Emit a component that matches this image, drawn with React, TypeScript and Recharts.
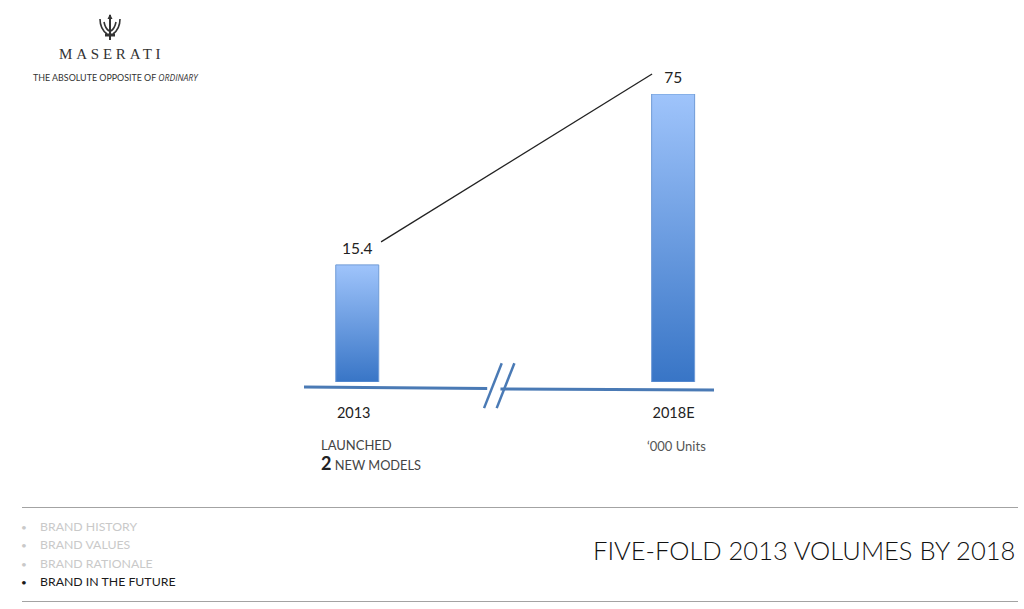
import React from 'react'
import { BarChart, Bar, XAxis, YAxis, ReferenceLine, LabelList } from 'recharts'

const years = [2013, 2018]
const tickLabels: Record<number, string> = { 2013: '2013', 2018: '2018E' }
const printedValues = [15.4, 75]
// the source bars are not to scale: the first one is drawn about 30 tall against the 75 bar
const drawnValues = [30.5, 75]
const navItems = ['BRAND HISTORY', 'BRAND VALUES', 'BRAND RATIONALE', 'BRAND IN THE FUTURE']
const navActive = 3

const data = years.map((year, i) => ({ year, drawn: drawnValues[i], printed: printedValues[i] }))

const axisColor = '#4a7ab5'
const font = 'Lato, "Open Sans", sans-serif'

const Text = ({ x, y, size, color = '#222', style, children }: any) => (
  <div style={{ position: 'absolute', left: x, top: y, fontSize: size, color, lineHeight: 1, whiteSpace: 'nowrap', fontFamily: font, ...style }}>
    {children}
  </div>
)

const Rule = ({ y }: { y: number }) => (
  <div style={{ position: 'absolute', left: 22, width: 996, top: y, height: 1, background: '#a3a3a3' }} />
)

const Trident = () => (
  <svg width={26} height={28} viewBox="0 0 26 28" style={{ position: 'absolute', left: 97, top: 14 }}>
    <g fill="none" stroke="#333" strokeWidth={1.6}>
      <path d="M13 1V26" strokeWidth={2} />
      <path d="M3 5C3 12 6 17 10 20" />
      <path d="M23 5C23 12 20 17 16 20" />
      <path d="M7 8C8 13 9 15 12 17" />
      <path d="M19 8C18 13 17 15 14 17" />
      <path d="M8 21H18" strokeWidth={3} />
    </g>
    <path d="M13 0L15.5 5H10.5Z" fill="#333" />
  </svg>
)

// the 2013 label sits a little left of its bar in the source
const YearTick = ({ x, y, payload }: any) => (
  <text x={x + (payload.value === 2013 ? -4 : 0)} y={y} dy={10} textAnchor="middle" fill="#222" fontSize={14.5} fontFamily={font}>
    {tickLabels[payload.value]}
  </text>
)

export default function App() {
  return (
    <div style={{ position: 'absolute', left: 0, top: 0, width: 1024, height: 609, background: '#fff', overflow: 'hidden' }}>
      <Trident />
      <Text x={59} y={47} size={15} color="#333" style={{ fontFamily: '"Liberation Serif", serif', letterSpacing: 3.8 }}>
        MASERATI
      </Text>
      <Text x={33} y={74} size={8.9} color="#333">
        THE ABSOLUTE OPPOSITE OF <i style={{ fontFamily: '"Open Sans", sans-serif', fontSize: 8.6 }}>ORDINARY</i>
      </Text>

      <BarChart
        width={1024}
        height={609}
        data={data}
        margin={{ top: 94, right: 310, bottom: 197, left: 304 }}
        style={{ position: 'absolute', left: 0, top: 0 }}
      >
        <defs>
          <linearGradient id="barFill" x1="0" y1="0" x2="0" y2="1">
            <stop offset="0%" stopColor="#9fc4fb" />
            <stop offset="100%" stopColor="#3875c6" />
          </linearGradient>
        </defs>
        <XAxis
          type="number"
          dataKey="year"
          domain={[2012.15, 2018.64]}
          ticks={years}
          axisLine={false}
          tickLine={false}
          height={30}
          tickMargin={20}
          allowDataOverflow
          tick={<YearTick />}
        />
        <YAxis hide type="number" domain={[0, 75]} allowDataOverflow />
        <Bar dataKey="drawn" barSize={43} fill="url(#barFill)" stroke="#6f9bd6" strokeWidth={1} isAnimationActive={false}>
          <LabelList dataKey="printed" position="top" offset={11} fill="#222" fontSize={15.5} fontFamily={font} />
        </Bar>
        {/* broken axis, sloping down a little to the right */}
        <ReferenceLine segment={[{ x: 2012.15, y: -1.3 }, { x: 2015.05, y: -1.7 }]} stroke={axisColor} strokeWidth={3} ifOverflow="visible" />
        <ReferenceLine segment={[{ x: 2015.26, y: -1.8 }, { x: 2018.64, y: -2.1 }]} stroke={axisColor} strokeWidth={3} ifOverflow="visible" />
        <ReferenceLine segment={[{ x: 2015.0, y: -6.8 }, { x: 2015.28, y: 4.9 }]} stroke={axisColor} strokeWidth={2.5} ifOverflow="visible" />
        <ReferenceLine segment={[{ x: 2015.2, y: -6.8 }, { x: 2015.48, y: 4.9 }]} stroke={axisColor} strokeWidth={2.5} ifOverflow="visible" />
        {/* growth line between the two values */}
        <ReferenceLine segment={[{ x: 2013.37, y: 36.5 }, { x: 2017.66, y: 80.2 }]} stroke="#222" strokeWidth={1.3} ifOverflow="visible" />
      </BarChart>

      <Text x={321} y={439} size={13} color="#444">LAUNCHED</Text>
      <Text x={321} y={454} size={12.8} color="#444">
        <b style={{ fontSize: 18, color: '#222' }}>2</b> NEW MODELS
      </Text>
      <Text x={647} y={440} size={13} color="#555">‘000 Units</Text>

      <Rule y={507} />
      {navItems.map((item, i) => {
        const color = i === navActive ? '#1a1a1a' : '#c9c9c9'
        const top = 521 + i * 18.3
        return (
          <React.Fragment key={item}>
            <Text x={21} y={top} size={10} color={color} style={{ lineHeight: '13px' }}>•</Text>
            <Text x={40} y={top} size={12.3} color={color}>{item}</Text>
          </React.Fragment>
        )
      })}
      <Text x={593} y={538} size={25.5} color="#111" style={{ fontWeight: 300 }}>
        FIVE-FOLD 2013 VOLUMES BY 2018
      </Text>
      <Rule y={601} />
    </div>
  )
}
